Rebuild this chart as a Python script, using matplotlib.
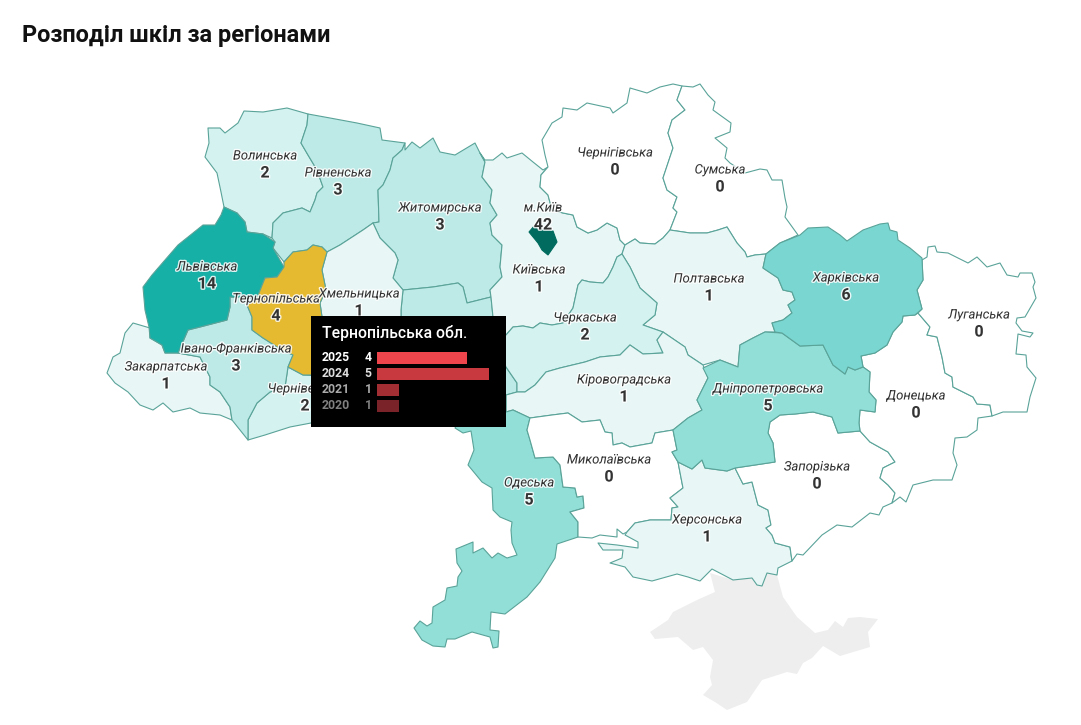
import matplotlib
matplotlib.use("Agg")
import matplotlib.pyplot as plt
import matplotlib.patheffects as pe

plt.rcParams['font.family'] = ['Roboto', 'DejaVu Sans']

# ==========================================
# 1. REGION DATA (outlines, in image pixels)
# ==========================================
volynska = [(208,128),(220,128),(225,133),(238,123),(244,111),(263,112),(287,108),(308,114),(307,125),(301,143),(308,155),(317,170),(323,187),(317,193),(315,200),(310,212),(302,208),(283,213),(273,223),(272,238),(263,234),(247,232),(245,222),(237,213),(224,207),(221,192),(217,173),(205,157),(209,143)]
rivnenska = [(308,114),(330,118),(357,123),(380,128),(382,140),(405,143),(402,150),(393,158),(390,170),(383,185),(378,190),(379,222),(373,223),(363,230),(340,245),(327,252),(322,247),(313,245),(307,250),(293,252),(284,262),(273,248),(275,242),(272,238),(273,223),(283,213),(302,208),(310,212),(315,200),(317,193),(323,187),(317,170),(308,155),(301,143),(307,125)]
zhytomyrska = [(405,143),(405,150),(412,142),(420,148),(433,138),(440,152),(455,155),(475,143),(480,153),(485,162),(482,177),(492,190),(490,203),(497,215),(490,223),(492,235),(502,245),(500,267),(502,277),(490,290),(491,297),(467,303),(463,287),(458,283),(433,287),(403,290),(393,278),(398,260),(395,253),(380,238),(373,223),(379,222),(378,190),(383,185),(390,170),(393,158),(402,150)]
khmelnytska = [(373,223),(380,238),(395,253),(398,260),(393,278),(403,290),(401,310),(401,340),(360,380),(330,380),(320,350),(322,317),(320,303),(326,290),(322,270),(327,252),(340,245),(363,230)]
vinnytska = [(403,290),(433,287),(458,283),(463,287),(467,303),(491,297),(493,317),(495,340),(506,367),(517,383),(517,392),(506,395),(460,420),(420,400),(360,380),(401,340),(401,310)]
kyivska = [(480,153),(485,160),(493,160),(502,153),(507,158),(522,153),(533,162),(543,170),(548,167),(541,175),(540,187),(548,195),(552,210),(563,213),(573,215),(577,227),(588,233),(597,230),(607,223),(617,228),(620,240),(625,245),(622,254),(617,257),(613,267),(608,277),(603,283),(590,282),(582,280),(578,285),(573,308),(563,323),(552,325),(540,323),(533,328),(523,326),(513,327),(506,335),(493,317),(491,297),(490,290),(502,277),(500,267),(502,245),(492,235),(490,223),(497,215),(490,203),(492,190),(482,177),(485,162)]
chernihivska = [(542,140),(552,123),(562,117),(563,108),(577,110),(587,103),(610,108),(613,113),(627,103),(630,88),(647,93),(660,87),(673,84),(682,86),(677,100),(685,110),(672,120),(668,133),(673,148),(668,163),(663,178),(667,190),(677,197),(673,208),(677,212),(670,230),(663,238),(655,244),(640,243),(635,239),(625,245),(620,240),(617,228),(607,223),(597,230),(588,233),(577,227),(573,215),(563,213),(552,210),(548,195),(540,187),(541,175),(548,167),(545,155)]
sumska = [(682,86),(693,87),(700,84),(708,95),(715,102),(713,110),(731,123),(730,132),(715,138),(727,148),(725,158),(730,163),(745,173),(760,169),(767,170),(772,180),(782,180),(785,198),(787,207),(785,217),(798,235),(780,243),(766,254),(755,255),(747,257),(745,252),(737,243),(727,227),(718,230),(707,233),(690,233),(670,230),(677,212),(673,208),(677,197),(667,190),(663,178),(668,163),(673,148),(668,133),(672,120),(685,110),(677,100)]
poltavska = [(625,245),(635,239),(640,243),(655,244),(663,238),(670,230),(690,233),(707,233),(718,230),(727,227),(737,243),(745,252),(747,257),(755,255),(766,254),(763,268),(778,278),(783,290),(792,292),(795,300),(788,305),(792,313),(783,320),(772,323),(775,332),(765,332),(753,338),(740,345),(738,367),(720,360),(703,365),(688,355),(685,347),(663,332),(643,325),(655,315),(657,303),(640,288),(630,267),(622,254)]
cherkaska = [(506,335),(513,327),(523,326),(533,328),(540,323),(552,325),(563,323),(573,308),(578,285),(582,280),(590,282),(603,283),(608,277),(613,267),(617,257),(622,254),(630,267),(640,288),(657,303),(655,315),(643,325),(663,332),(657,340),(663,353),(643,354),(630,345),(620,355),(600,357),(585,362),(560,368),(546,372),(535,385),(525,392),(517,392),(517,383),(506,367),(495,340)]
kirovohradska = [(663,353),(657,340),(663,332),(685,347),(688,355),(703,365),(708,378),(697,400),(702,410),(688,418),(673,430),(655,433),(652,443),(630,447),(622,443),(613,445),(612,433),(605,432),(600,420),(582,422),(568,413),(552,415),(530,418),(513,410),(506,412),(506,395),(517,392),(525,392),(535,385),(546,372),(560,368),(585,362),(600,357),(620,355),(630,345),(643,354)]
odeska = [(506,412),(513,410),(530,418),(527,430),(530,440),(535,458),(553,457),(560,465),(563,487),(575,488),(577,497),(583,496),(584,508),(570,512),(578,522),(578,537),(557,544),(555,558),(540,582),(527,597),(505,614),(491,612),(490,630),(499,631),(498,647),(493,648),(490,637),(472,632),(455,639),(447,639),(445,647),(433,646),(422,640),(414,628),(420,621),(427,626),(432,623),(433,607),(445,600),(447,588),(457,586),(458,577),(462,571),(457,563),(456,549),(473,542),(473,553),(483,548),(492,558),(498,553),(507,558),(517,555),(512,543),(511,530),(512,522),(500,517),(493,510),(492,488),(482,482),(468,465),(474,450),(471,431),(463,433),(455,428),(460,420),(506,395)]
mykolaivska = [(530,418),(552,415),(568,413),(582,422),(600,420),(605,432),(612,433),(613,445),(622,443),(630,447),(652,443),(655,433),(673,430),(677,450),(672,452),(678,462),(683,488),(670,498),(678,507),(672,508),(671,520),(650,520),(635,523),(627,532),(623,534),(617,529),(617,537),(600,535),(592,538),(578,537),(578,522),(570,512),(584,508),(583,496),(577,497),(575,488),(563,487),(560,465),(553,457),(535,458),(530,440),(527,430)]
khersonska = [(678,462),(683,488),(670,498),(678,507),(672,508),(671,520),(650,520),(635,523),(627,532),(625,535),(638,542),(638,548),(617,545),(598,543),(603,550),(623,550),(622,558),(610,563),(625,567),(633,577),(652,581),(677,574),(688,577),(700,581),(712,569),(733,580),(752,578),(757,585),(762,586),(767,573),(777,575),(778,568),(792,561),(790,547),(775,543),(772,535),(766,528),(771,525),(768,510),(758,505),(752,482),(743,484),(735,468),(727,471),(705,468),(702,460),(692,469)]
dnipropetrovska = [(672,452),(678,462),(692,469),(702,460),(705,468),(727,471),(735,468),(775,462),(773,443),(768,433),(770,422),(780,415),(795,414),(813,412),(832,417),(838,433),(860,431),(859,423),(860,410),(875,412),(876,400),(869,392),(870,372),(863,367),(855,370),(848,367),(845,374),(833,365),(823,345),(800,346),(782,333),(765,332),(753,338),(740,345),(738,367),(720,360),(703,368),(708,378),(697,400),(702,410),(688,418),(673,430),(677,450)]
kharkivska = [(766,254),(780,243),(800,235),(808,228),(828,227),(840,235),(847,241),(863,230),(880,224),(888,223),(890,230),(897,232),(898,240),(910,248),(922,258),(923,280),(917,290),(922,309),(915,315),(903,316),(902,322),(893,332),(887,345),(875,353),(861,356),(863,367),(855,370),(848,367),(845,374),(833,365),(823,345),(800,346),(782,333),(775,332),(772,323),(783,320),(792,313),(788,305),(795,300),(792,292),(783,290),(778,278),(763,268)]
luhanska = [(922,260),(927,257),(928,247),(935,246),(937,252),(948,253),(968,263),(977,257),(987,267),(1000,263),(1007,275),(1018,277),(1020,273),(1032,273),(1035,282),(1033,287),(1036,298),(1025,317),(1017,318),(1016,323),(1022,331),(1033,333),(1030,337),(1018,334),(1016,354),(1026,355),(1027,367),(1036,378),(1030,397),(1027,412),(1003,412),(992,416),(990,405),(977,404),(973,397),(953,387),(952,377),(945,373),(942,357),(937,337),(927,335),(930,327),(918,313),(922,309),(917,290),(923,280)]
donetska = [(903,316),(915,315),(918,313),(930,327),(927,335),(937,337),(942,357),(945,373),(952,377),(953,387),(973,397),(977,404),(990,405),(992,416),(978,418),(977,430),(967,437),(955,438),(953,453),(957,465),(952,480),(933,480),(913,485),(906,502),(900,497),(892,503),(895,493),(888,485),(880,478),(883,468),(895,462),(888,452),(870,442),(860,431),(859,423),(860,410),(875,412),(876,400),(869,392),(870,372),(863,367),(861,356),(875,353),(887,345),(893,332),(902,322)]
zaporizka = [(735,468),(775,462),(773,443),(768,433),(770,422),(780,415),(795,414),(813,412),(832,417),(838,433),(860,431),(870,442),(888,452),(895,462),(883,468),(880,478),(888,485),(895,493),(892,503),(883,507),(879,515),(870,513),(852,527),(837,525),(822,535),(803,555),(797,554),(792,561),(790,547),(775,543),(772,535),(766,528),(771,525),(768,510),(758,505),(752,482),(743,484)]
lvivska = [(224,207),(237,213),(245,222),(247,232),(263,234),(275,242),(273,248),(284,267),(277,277),(265,278),(257,298),(230,297),(230,307),(227,320),(200,327),(188,330),(178,353),(165,353),(162,345),(150,338),(149,327),(145,310),(143,287),(152,275),(178,245),(203,225),(215,225),(221,215)]
ternopilska = [(284,262),(293,252),(307,250),(313,245),(322,247),(327,252),(322,270),(326,290),(320,303),(322,317),(320,350),(322,376),(311,375),(303,375),(288,367),(293,355),(282,350),(263,338),(252,330),(252,317),(247,305),(257,298),(265,278),(277,277),(284,267)]
ivano_frankivska = [(230,297),(257,298),(247,305),(252,317),(252,330),(263,338),(282,350),(293,355),(288,367),(285,387),(270,392),(257,403),(248,420),(248,440),(232,420),(230,407),(220,392),(210,385),(210,377),(200,357),(178,353),(188,330),(200,327),(227,320),(230,307)]
zakarpatska = [(133,323),(150,328),(150,338),(162,345),(165,353),(178,353),(200,357),(210,377),(210,385),(220,392),(230,407),(232,420),(220,415),(200,413),(190,408),(173,412),(163,403),(153,410),(140,405),(128,392),(115,383),(107,373),(113,357),(120,353),(125,333)]
chernivetska = [(288,367),(303,375),(322,376),(330,376),(330,420),(311,423),(290,427),(265,435),(248,440),(248,420),(257,403),(270,392),(285,387)]
kyiv_city = [(529,232),(535,225),(537,229),(553,231),(557,242),(548,255),(542,250),(538,243)]
krym = [(710,573),(715,592),(697,600),(673,612),(668,620),(650,632),(655,639),(678,637),(693,650),(703,647),(713,660),(710,677),(712,685),(703,695),(715,702),(727,710),(747,702),(762,680),(787,672),(797,674),(803,663),(812,658),(823,646),(840,656),(870,647),(868,632),(878,619),(860,617),(848,618),(843,627),(835,621),(828,630),(815,633),(797,617),(783,597),(777,575),(767,573),(762,586),(757,585),(752,578),(733,580)]

outlines = [volynska, rivnenska, zhytomyrska, vinnytska, khmelnytska, kyivska, chernihivska, sumska, poltavska, cherkaska, kirovohradska, odeska, mykolaivska, khersonska, zaporizka, donetska, luhanska, dnipropetrovska, kharkivska, zakarpatska, chernivetska, ivano_frankivska, lvivska, ternopilska]
counts = [2, 3, 3, 3, 1, 1, 0, 0, 1, 2, 1, 5, 0, 1, 0, 0, 0, 5, 6, 1, 2, 3, 14, 4]

label_names = ["Волинська", "Рівненська", "Житомирська", "Чернігівська", "Сумська", "м.Київ", "Київська", "Полтавська", "Харківська", "Луганська", "Львівська", "Тернопільська", "Хмельницька", "Черкаська", "Івано-Франківська", "Закарпатська", "Чернівецька", "Кіровоградська", "Дніпропетровська", "Донецька", "Миколаївська", "Запорізька", "Одеська", "Херсонська"]
label_counts = [2, 3, 3, 0, 0, 42, 1, 1, 6, 0, 14, 4, 1, 2, 3, 1, 2, 1, 5, 0, 0, 0, 5, 1]
label_x = [265, 338, 440, 615, 720, 543, 539, 709, 846, 979, 207, 276, 359, 585, 236, 166, 305, 624, 768, 916, 609, 817, 529, 707]
label_y = [155, 172, 207, 152, 169, 207, 269, 278, 277, 314, 266, 298, 293, 317, 348, 366, 388, 379, 388, 395, 459, 466, 482, 519]

tooltip_years = ["2025", "2024", "2021", "2020"]
tooltip_values = [4, 5, 1, 1]

# ==========================================
# 2. COLOURS
# ==========================================
count_colors = {0: "#ffffff", 1: "#e8f7f6", 2: "#d4f2f0", 3: "#bdeae6", 5: "#92dfd8", 6: "#7ad6d1", 14: "#17b0a6"}
edge_color = "#5aa399"
highlight_color = "#e6ba30"
bar_colors = ["#ee444b", "#c8393f", "#a02e32", "#7a2429"]
year_colors = ["#ffffff", "#dddddd", "#aaaaaa", "#808080"]

# ==========================================
# 3. MAP
# ==========================================
W, H = 1081, 725
fig = plt.figure(figsize=(W / 100, H / 100), dpi=100)
ax = fig.add_axes([0, 0, 1, 1])
ax.set_xlim(0, W)
ax.set_ylim(H, 0)
ax.axis("off")

ax.text(22, 35, "Розподіл шкіл за регіонами", fontsize=16.9, fontweight="bold", color="#111111", ha="left", va="center")

ax.fill(*zip(*krym), facecolor="#eeeeee", edgecolor="none", zorder=1)

for shape, n in zip(outlines, counts):
    color = highlight_color if shape is ternopilska else count_colors[n]
    ax.fill(*zip(*shape), facecolor=color, edgecolor=edge_color, linewidth=0.8, joinstyle="round", zorder=2)

ax.fill(*zip(*kyiv_city), facecolor="#006b5e", edgecolor="#006b5e", linewidth=0.8, zorder=3)

halo = [pe.withStroke(linewidth=2, foreground="white", alpha=0.85)]
for name, n, x, y in zip(label_names, label_counts, label_x, label_y):
    ax.text(x, y + 1, name, fontsize=9.4, fontstyle="italic", color="#333333", ha="center", va="center", path_effects=halo, zorder=4)
    ax.text(x, y + 18, str(n), fontsize=11.5, fontweight="bold", color="#333333", ha="center", va="center", path_effects=halo, zorder=4)

# ==========================================
# 4. TOOLTIP
# ==========================================
ax.add_patch(plt.Rectangle((311, 316), 195, 111, facecolor="black", edgecolor="none", zorder=5))
ax.text(322, 333, "Тернопільська обл.", fontsize=11.3, fontweight="medium", color="white", ha="left", va="center", zorder=6)

row_top = 350
row_h = 16
for i, (year, val) in enumerate(zip(tooltip_years, tooltip_values)):
    y = row_top + row_h * i + row_h / 2
    ax.text(322, y - 1, year, fontsize=8.8, fontweight="bold", color=year_colors[i], ha="left", va="center", zorder=6)
    ax.text(368, y - 1, str(val), fontsize=8.8, fontweight="bold", color=year_colors[i], ha="center", va="center", zorder=6)

bar_ax = fig.add_axes([377 / W, 1 - (row_top + row_h * 4) / H, 112 / W, row_h * 4 / H])
bar_ax.barh(range(4), tooltip_values, height=0.72, color=bar_colors)
bar_ax.set_xlim(0, 5)
bar_ax.set_ylim(3.5, -0.5)
bar_ax.axis("off")

fig.savefig("out.png", dpi=100)
